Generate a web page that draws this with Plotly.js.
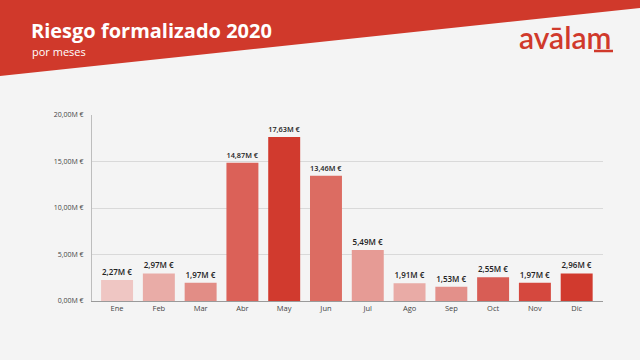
<!DOCTYPE html>
<html>
<head>
<meta charset="utf-8">
<script src="https://cdn.plot.ly/plotly-3.0.1.min.js"></script>
<style>html,body{margin:0;padding:0;background:#f4f4f4;}#chart{width:640px;height:360px;}</style>
</head>
<body>
<div id="chart"></div>
<script>
const months = ["Ene","Feb","Mar","Abr","May","Jun","Jul","Ago","Sep","Oct","Nov","Dic"];
const values = [2.27, 2.97, 1.97, 14.87, 17.63, 13.46, 5.49, 1.91, 1.53, 2.55, 1.97, 2.96];
const barColors = ["#efc6c3","#e9aca7","#e28d86","#db6158","#d13a2e","#dc6c62","#e69b95","#e9aba6","#e3908a","#d85d55","#d5483e","#d13a2e"];
const tickVals = [0, 5, 10, 15, 20];
const tickText = ["0,00M €","5,00M €","10,00M €","15,00M €","20,00M €"];

const fmt = v => v.toFixed(2).replace(".", ",") + "M €";
const labels = values.map(fmt);

const W = 640, H = 360;
const m = {l: 92, r: 37, t: 115, b: 59};
const pw = W - m.l - m.r, ph = H - m.t - m.b;
const px = x => (x - m.l) / pw;
const py = y => (H - m.b - y) / ph;

const red = "#d0392b";

const trace = {
  type: "bar",
  x: months,
  y: values,
  text: labels,
  textposition: "outside",
  cliponaxis: false,
  textfont: {family: "Open Sans, sans-serif", size: 8, color: "#222", weight: 600},
  marker: {color: barColors},
  hoverinfo: "skip"
};

const layout = {
  width: W, height: H,
  margin: m,
  paper_bgcolor: "#f4f4f4",
  plot_bgcolor: "#f4f4f4",
  bargap: 0.235,
  showlegend: false,
  xaxis: {
    range: [-0.6, 11.63],
    showgrid: false,
    showline: true, linecolor: "#9a9a9a", linewidth: 1,
    ticks: "",
    tickfont: {family: "Open Sans, sans-serif", size: 7.5, color: "#444"},
    fixedrange: true
  },
  yaxis: {
    range: [0, 20],
    tickvals: tickVals, ticktext: tickText,
    showgrid: true, gridcolor: "#d9d9d9", gridwidth: 1,
    zeroline: false,
    showline: true, linecolor: "#bdbdbd", linewidth: 1,
    ticks: "",
    ticklabelstandoff: 6,
    tickfont: {family: "Open Sans, sans-serif", size: 7, color: "#444"},
    fixedrange: true
  },
  shapes: [
    {type: "path", xref: "paper", yref: "paper", layer: "below",
     path: `M ${px(0)} ${py(0)} L ${px(640)} ${py(0)} L ${px(640)} ${py(8)} L ${px(0)} ${py(76)} Z`,
     fillcolor: red, line: {width: 0}},
    {type: "line", xref: "paper", yref: "paper",
     x0: px(594), x1: px(613), y0: py(51), y1: py(51),
     line: {color: red, width: 2.5}}
  ],
  annotations: [
    {xref: "paper", yref: "paper", x: px(29), y: py(30), xanchor: "left", yanchor: "middle",
     text: "<b>Riesgo formalizado 2020</b>", showarrow: false,
     font: {family: "Open Sans, sans-serif", size: 20, color: "#ffffff"}},
    {xref: "paper", yref: "paper", x: px(30), y: py(51), xanchor: "left", yanchor: "middle",
     text: "por meses", showarrow: false,
     font: {family: "Open Sans, sans-serif", size: 11, color: "#ffffff"}},
    {xref: "paper", yref: "paper", x: px(565), y: py(37), xanchor: "center", yanchor: "middle",
     text: "avālam", showarrow: false,
     font: {family: "Lato, sans-serif", size: 30, color: red, weight: 600}}
  ]
};

Plotly.newPlot("chart", [trace], layout, {displayModeBar: false, staticPlot: true});
</script>
</body>
</html>
